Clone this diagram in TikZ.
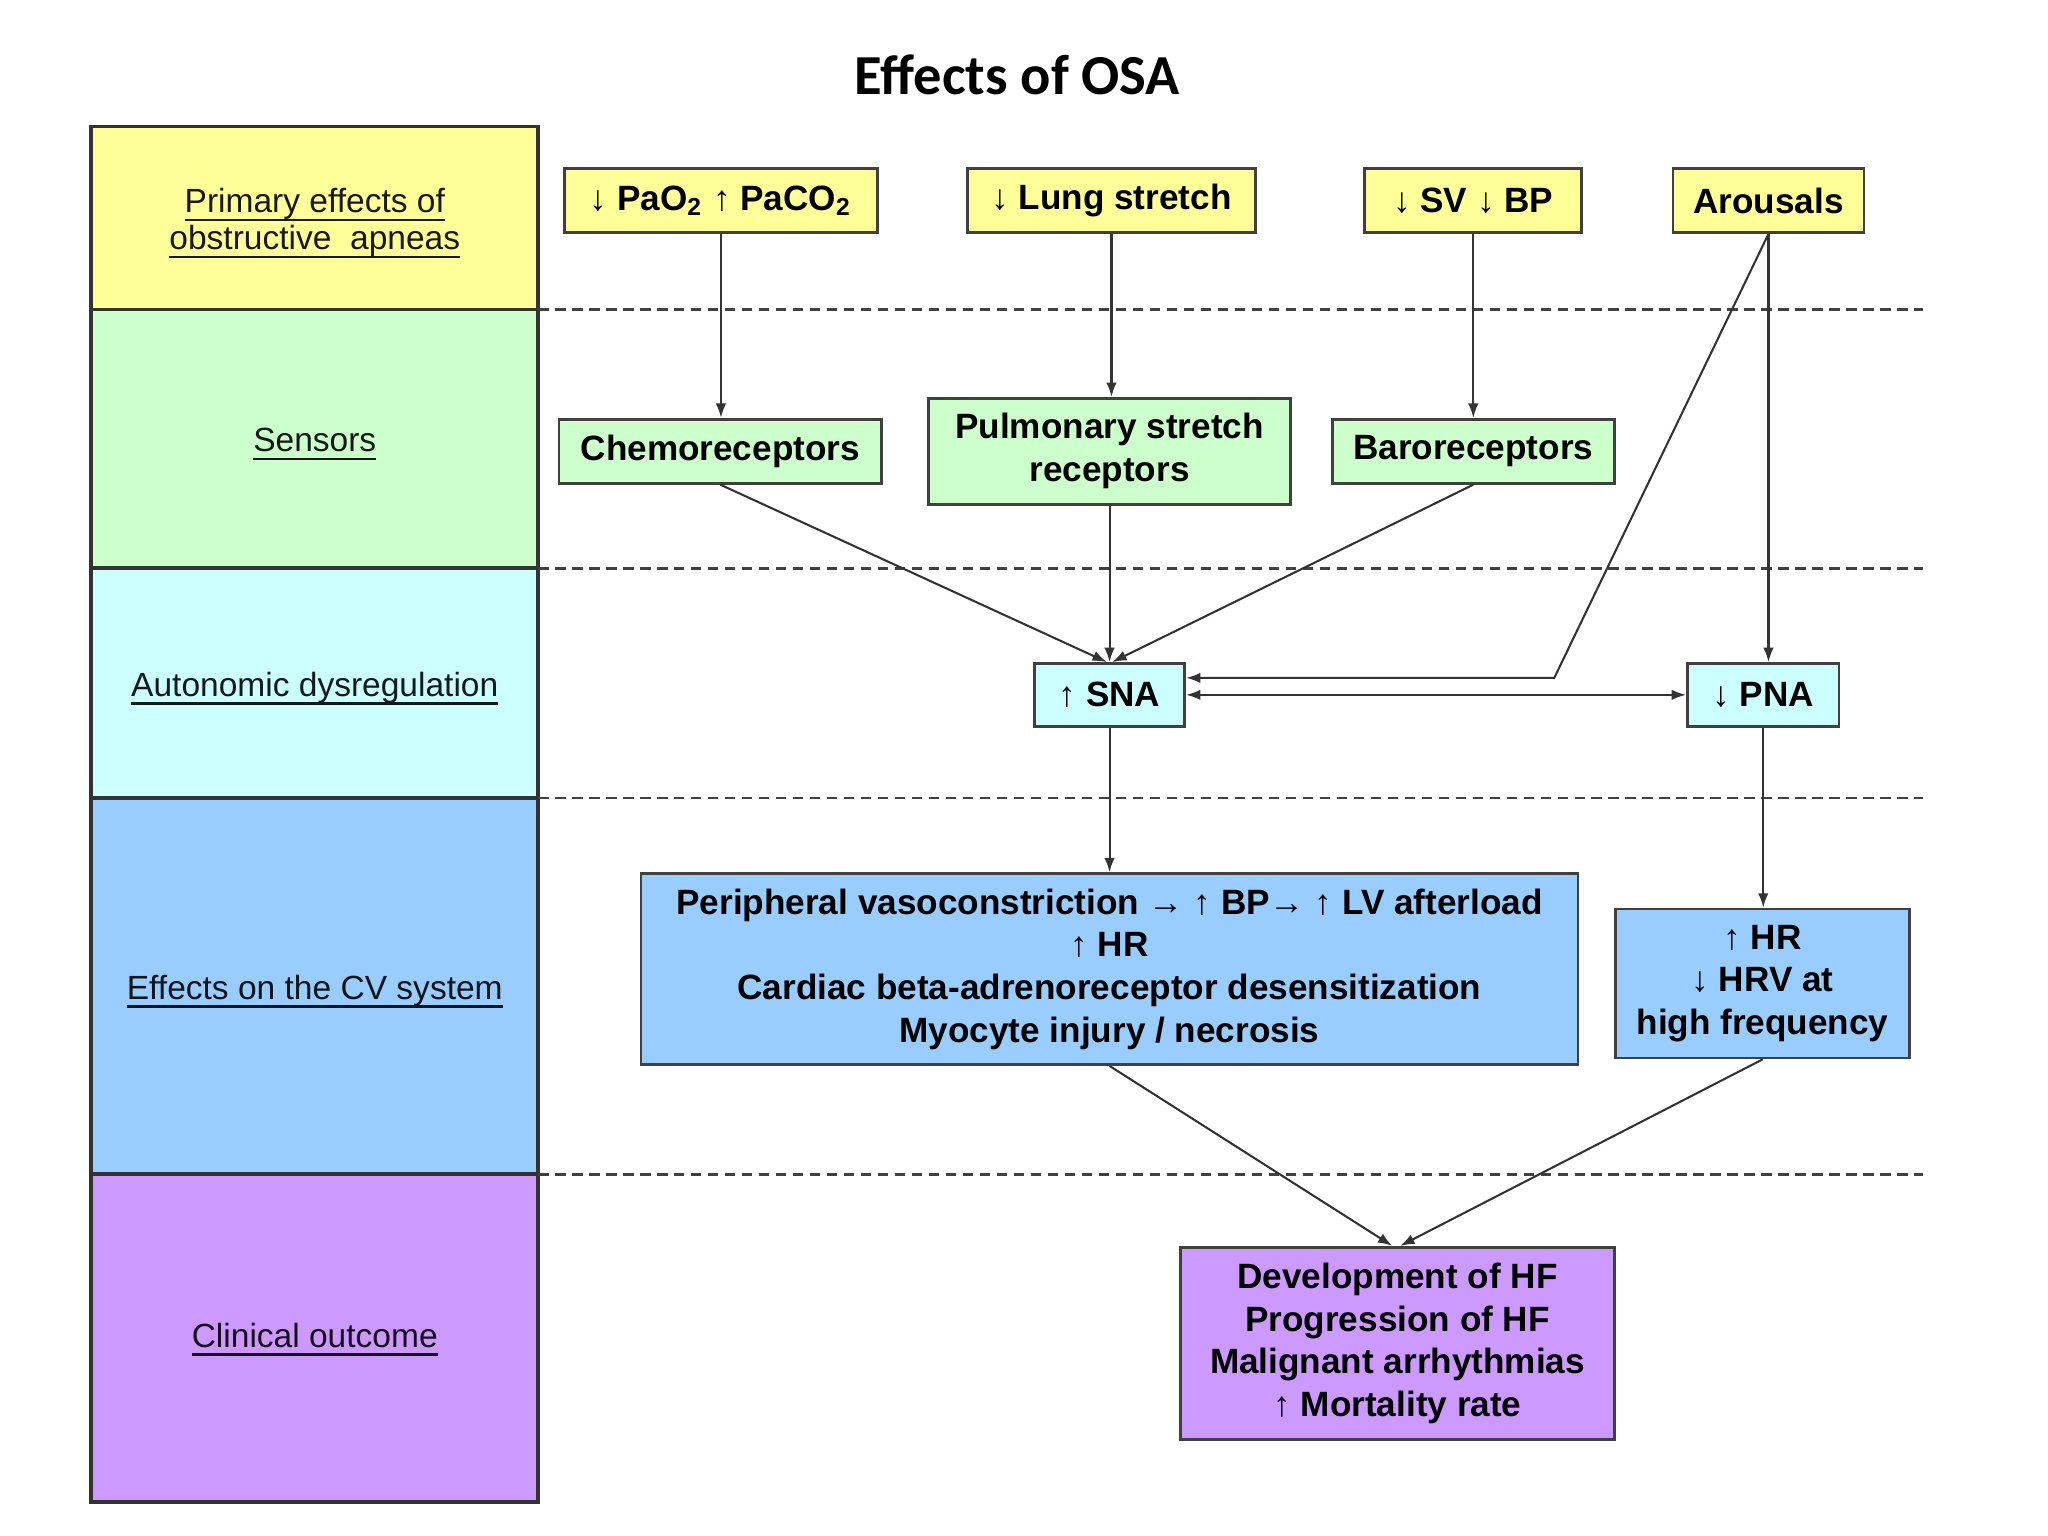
\documentclass[tikz,border=0pt]{standalone}
\usepackage{fontspec}
\setmainfont{Liberation Sans}
\newfontfamily\titlefont{Carlito}
\usetikzlibrary{arrows.meta}
\definecolor{cyel}{HTML}{FFFF99}
\definecolor{cgrn}{HTML}{CCFFCC}
\definecolor{ccya}{HTML}{CCFFFF}
\definecolor{cblu}{HTML}{99CCFF}
\definecolor{cpur}{HTML}{CC99FF}
\newlength\myulw
\newcommand\myul[1]{\settowidth{\myulw}{#1}\rlap{\rule[-1.9pt]{\myulw}{0.55pt}}#1}
\begin{document}
\begin{tikzpicture}[x=0.01cm,y=-0.01cm,
  band/.style={draw=black!80, line width=0.8pt, minimum width=3.42cm, inner sep=0pt},
  lab/.style={inner sep=0pt, align=center, yshift=-0.04cm,
    font=\fontsize{7.3}{8}\selectfont},
  box/.style={draw=black!75, line width=0.6pt, inner sep=0pt, align=center,
    font=\bfseries\fontsize{7.65}{9.3}\selectfont},
  conn/.style={draw=black!80, line width=0.45pt, -{Latex[length=1.1mm,width=0.8mm]}},
  sep/.style={draw=black!75, line width=0.6pt, dash pattern=on 0.08cm off 0.05cm}]
\useasboundingbox (0,0) rectangle (1568,1176);
\fill[white] (0,0) rectangle (1568,1176);

\node[font=\titlefont\bfseries\fontsize{12.3}{14}\selectfont] (title) at (779,57) {Effects of OSA};

% left column
\node[band, fill=cyel, minimum height=1.40cm] (r1) at (241,167) {};
\node[band, fill=cgrn, minimum height=1.98cm] (r2) at (241,336) {};
\node[band, fill=ccya, minimum height=1.76cm] (r3) at (241,523) {};
\node[band, fill=cblu, minimum height=2.88cm] (r4) at (241,755) {};
\node[band, fill=cpur, minimum height=2.51cm] (r5) at (241,1024.5) {};
\node[lab, text=cyel!10!black] (l1) at (r1) {\myul{Primary effects of}\\\myul{obstructive\ \ apneas}};
\node[lab, text=cgrn!10!black] (l2) at (r2) {\myul{Sensors}};
\node[lab, text=ccya!10!black] (l3) at (r3) {\myul{Autonomic dysregulation}};
\node[lab, text=cblu!10!black] (l4) at (r4) {\myul{Effects on the CV system}};
\node[lab, text=cpur!10!black] (l5) at ([yshift=0.03cm]r5) {\myul{Clinical outcome}};

% dashed separators
\draw[sep] (412,237) -- (1472,237);
\draw[sep] (412,435) -- (1472,435);
\draw[sep] (412,611) -- (1472,611);
\draw[sep] (412,899) -- (1472,899);

% primary effects
\node[box, fill=cyel, minimum width=2.40cm, minimum height=0.49cm] (pao) at (552,153.5)
  {↓ PaO\textsubscript{2} ↑ PaCO\textsubscript{2}};
\node[box, fill=cyel, minimum width=2.20cm, minimum height=0.49cm] (lung) at (851,153.5) {↓ Lung stretch};
\node[box, fill=cyel, minimum width=1.66cm, minimum height=0.49cm] (svbp) at (1128,153.5) {↓ SV ↓ BP};
\node[box, fill=cyel, minimum width=1.46cm, minimum height=0.49cm] (arou) at (1354,153.5) {Arousals};

% sensors
\node[box, fill=cgrn, minimum width=2.47cm, minimum height=0.49cm] (chemo) at (551.5,345.5) {Chemoreceptors};
\node[box, fill=cgrn, minimum width=2.77cm, minimum height=0.81cm] (pulm) at (849.5,345.5) {Pulmonary stretch\\receptors};
\node[box, fill=cgrn, minimum width=2.16cm, minimum height=0.49cm] (baro) at (1128,345.5) {Baroreceptors};

% autonomic
\node[box, fill=ccya, minimum width=1.15cm, minimum height=0.48cm] (sna) at (849.5,532) {↑ SNA};
\node[box, fill=ccya, minimum width=1.16cm, minimum height=0.48cm] (pna) at (1350,532) {↓ PNA};

% CV effects
\node[box, fill=cblu, minimum width=7.17cm, minimum height=1.46cm] (cv) at (849.5,742)
  {Peripheral vasoconstriction → ↑ BP→ ↑ LV afterload\\↑ HR\\Cardiac beta-adrenoreceptor desensitization\\Myocyte injury / necrosis};
\node[box, fill=cblu, minimum width=2.25cm, minimum height=1.14cm] (hr) at (1349.5,753)
  {↑ HR\\↓ HRV at\\high frequency};

% clinical outcome
\node[box, fill=cpur, minimum width=3.32cm, minimum height=1.47cm] (clin) at (1070,1028.5)
  {Development of HF\\Progression of HF\\Malignant arrhythmias\\↑ Mortality rate};

% connectors
\draw[conn] (pao.south) -- (pao.south |- chemo.north);
\draw[conn] (lung.south) -- (lung.south |- pulm.north);
\draw[conn] (svbp.south) -- (svbp.south |- baro.north);
\draw[conn] (chemo.south) -- ([xshift=-0.02cm]sna.north);
\draw[conn] (pulm.south) -- (sna.north);
\draw[conn] (baro.south) -- ([xshift=0.02cm]sna.north);
\coordinate (bend) at (1190,519);
\draw[conn] (arou.south) -- (bend) -- (bend -| sna.east);
\draw[conn] (arou.south) -- (arou.south |- pna.north);
\draw[draw=black!80, line width=0.45pt, {Latex[length=1.1mm,width=0.8mm]}-{Latex[length=1.1mm,width=0.8mm]}] (sna.east) -- (pna.west);
\draw[conn] (sna.south) -- (sna.south |- cv.north);
\draw[conn] (pna.south) -- (pna.south |- hr.north);
\draw[conn] (cv.south) -- ([xshift=-0.04cm]clin.north);
\draw[conn] (hr.south) -- ([xshift=0.02cm]clin.north);
\end{tikzpicture}
\end{document}
